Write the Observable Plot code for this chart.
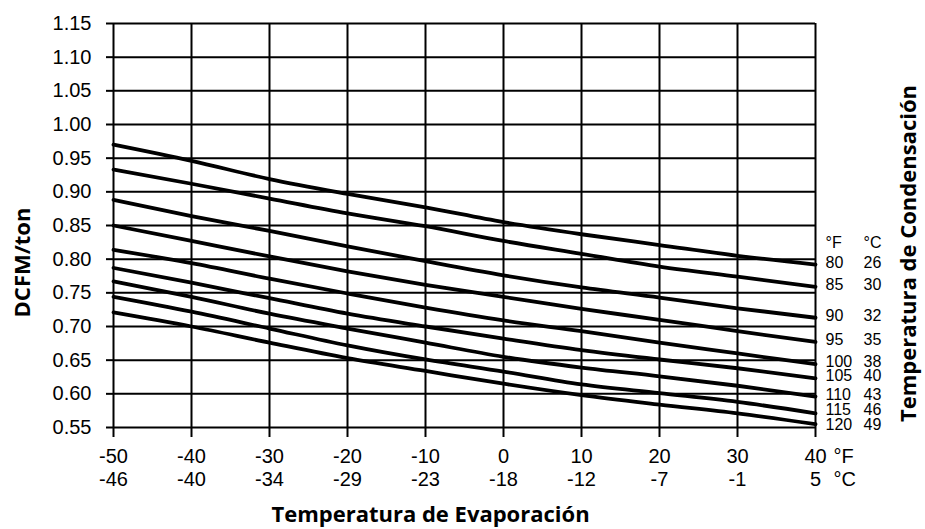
<!DOCTYPE html>
<html>
<head>
<meta charset="utf-8">
<script src="https://cdn.jsdelivr.net/npm/d3@7"></script>
<script src="https://cdn.jsdelivr.net/npm/@observablehq/plot@0.6"></script>
<style>
  html, body { margin: 0; padding: 0; background: white; }
</style>
</head>
<body>
<div id="chart"></div>
<script>
// Evaporating temperature (°F) sample points and tick labels
const evapF = [-50, -40, -30, -20, -10, 0, 10, 20, 30, 40];
const evapC = [-46, -40, -34, -29, -23, -18, -12, -7, -1, 5];
const yTicks = [0.55, 0.60, 0.65, 0.70, 0.75, 0.80, 0.85, 0.90, 0.95, 1.00, 1.05, 1.10, 1.15];

// Condensing temperatures
const condF = [80, 85, 90, 95, 100, 105, 110, 115, 120];
const condC = [26, 30, 32, 35, 38, 40, 43, 46, 49];

// DCFM/ton values for each condensing temperature, at evapF points
const dcfm80  = [0.970, 0.946, 0.919, 0.897, 0.877, 0.855, 0.837, 0.821, 0.805, 0.792];
const dcfm85  = [0.933, 0.912, 0.890, 0.868, 0.849, 0.827, 0.808, 0.789, 0.774, 0.759];
const dcfm90  = [0.888, 0.864, 0.842, 0.819, 0.797, 0.776, 0.758, 0.743, 0.727, 0.713];
const dcfm95  = [0.850, 0.827, 0.804, 0.782, 0.762, 0.744, 0.726, 0.710, 0.693, 0.677];
const dcfm100 = [0.814, 0.794, 0.771, 0.749, 0.728, 0.709, 0.693, 0.676, 0.660, 0.644];
const dcfm105 = [0.787, 0.765, 0.742, 0.719, 0.700, 0.682, 0.665, 0.651, 0.638, 0.623];
const dcfm110 = [0.767, 0.744, 0.719, 0.697, 0.676, 0.655, 0.639, 0.626, 0.612, 0.596];
const dcfm115 = [0.744, 0.722, 0.697, 0.672, 0.651, 0.633, 0.614, 0.601, 0.588, 0.571];
const dcfm120 = [0.721, 0.700, 0.676, 0.653, 0.634, 0.615, 0.598, 0.584, 0.571, 0.555];

const series = [dcfm80, dcfm85, dcfm90, dcfm95, dcfm100, dcfm105, dcfm110, dcfm115, dcfm120];

// Build tidy rows for Plot
const rows = [];
series.forEach((vals, s) => {
  vals.forEach((v, i) => rows.push({cond: condF[s], x: evapF[i], y: v}));
});
const ends = series.map((vals, s) => ({
  x: evapF[evapF.length - 1], y: vals[vals.length - 1], f: String(condF[s]), c: String(condC[s])
}));

const tickIndex = new Map(evapF.map((d, i) => [d, i]));
const font = "Liberation Sans, Arial, sans-serif";
const titleFont = "Open Sans, sans-serif";

// end-of-line labels (°F and °C columns), with small vertical nudges to avoid collisions
function endLabels(data, dy) {
  return [
    Plot.text(data, {x: "x", y: "y", text: "f", dx: 10, dy, textAnchor: "start", fontSize: 16}),
    Plot.text(data, {x: "x", y: "y", text: "c", dx: 48, dy, textAnchor: "start", fontSize: 16})
  ];
}

const chart = Plot.plot({
  width: 925,
  height: 529,
  marginTop: 23,
  marginBottom: 102,
  marginLeft: 113,
  marginRight: 110,
  style: {fontFamily: font, fontSize: "20px", color: "black", background: "white", overflow: "visible"},
  x: {domain: [-50, 40]},
  y: {domain: [0.55, 1.15]},
  marks: [
    Plot.gridX(evapF, {stroke: "black", strokeOpacity: 1, strokeWidth: 2}),
    Plot.gridY(yTicks, {stroke: "black", strokeOpacity: 1, strokeWidth: 2}),
    Plot.axisY(yTicks, {
      tickSize: 7, tickPadding: 15, strokeWidth: 2, fontSize: 20,
      tickFormat: d => d.toFixed(2), label: null
    }),
    Plot.axisX(evapF, {
      tickSize: 10, tickPadding: 9, strokeWidth: 2, fontSize: 20, lineHeight: 1.15,
      tickFormat: d => `${evapF[tickIndex.get(d)]}\n${evapC[tickIndex.get(d)]}`, label: null
    }),
    Plot.text(["°F\n°C"], {
      x: evapF[evapF.length - 1], frameAnchor: "bottom", dy: 19, dx: 18,
      textAnchor: "start", lineAnchor: "top", lineHeight: 1.15, fontSize: 20
    }),
    Plot.line(rows, {x: "x", y: "y", z: "cond", stroke: "black", strokeWidth: 3.8, curve: "monotone-x"}),
    ...endLabels(ends.slice(0, 7), -2),
    ...endLabels(ends.slice(7, 8), -3),
    ...endLabels(ends.slice(8), 1),
    Plot.text([ends[0]], {x: "x", y: "y", text: () => "°F", dx: 10, dy: -22, textAnchor: "start", fontSize: 16}),
    Plot.text([ends[0]], {x: "x", y: "y", text: () => "°C", dx: 48, dy: -22, textAnchor: "start", fontSize: 16}),
    Plot.text(["DCFM/ton"], {
      frameAnchor: "left", textAnchor: "middle", dx: -91, dy: 37, rotate: -90,
      fontFamily: titleFont, fontWeight: "bold", fontSize: 22
    }),
    Plot.text(["Temperatura de Evaporación"], {
      frameAnchor: "bottom", textAnchor: "middle", dx: -34, dy: 94,
      fontFamily: titleFont, fontWeight: "bold", fontSize: 22
    }),
    Plot.text(["Temperatura de Condensación"], {
      frameAnchor: "right", textAnchor: "middle", dx: 93, dy: 28, rotate: -90,
      fontFamily: titleFont, fontWeight: "bold", fontSize: 22
    })
  ]
});

document.getElementById("chart").appendChild(chart);
</script>
</body>
</html>
